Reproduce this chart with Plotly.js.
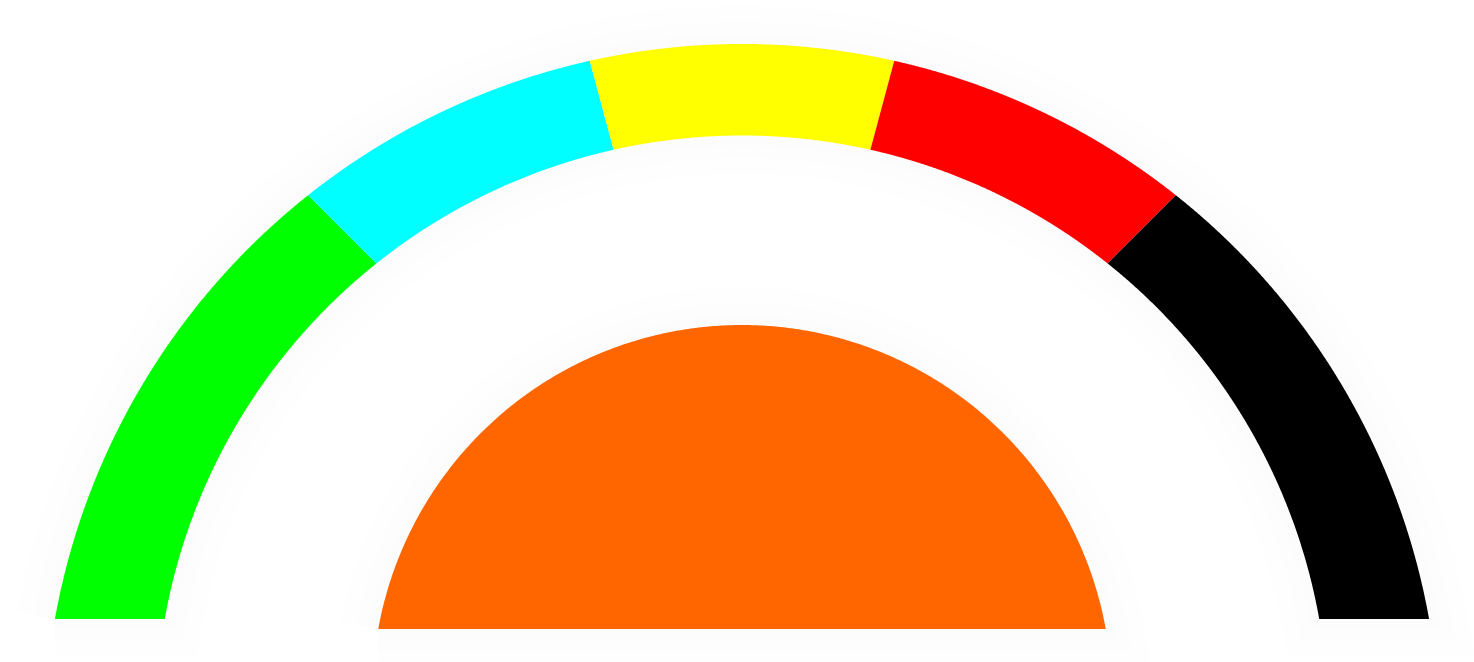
<!DOCTYPE html>
<html>
<head>
<meta charset="utf-8">
<script src="https://cdn.plot.ly/plotly-3.0.1.min.js"></script>
<style>html,body{margin:0;padding:0;background:#fff;}#chart{width:1474px;height:662px;}</style>
</head>
<body>
<div id="chart"></div>
<script>
// ---- data ----
const segments = ['Green', 'Cyan', 'Yellow', 'Red', 'Black'];
const segValues = [3, 2, 2, 2, 3];
const segColors = ['#00ff00', '#00ffff', '#ffff00', '#ff0000', '#000000'];
const coreName = ['Core'];
const coreColor = ['#ff6600'];

// ---- geometry (layout constants) ----
const OUTER = {cy: -113, R: 698};
const INNER = {cy: -92.8, R: 586.3};
const ARC_CUT = 10;
const CORE = {cy: -65.6, R: 369.6};
const CORE_CUT = 0;
const N = 400;

function rayAlpha(c, phi) {
  const s = Math.sin(phi), co = Math.cos(phi);
  const t = c.cy * s + Math.sqrt(c.cy * c.cy * s * s - c.cy * c.cy + c.R * c.R);
  const x = t * co, y = t * s;
  return Math.atan2(y - c.cy, x);
}
function cutAlpha(c, cut, left) {
  const a = Math.asin((cut - c.cy) / c.R);
  return left ? Math.PI - a : a;
}
function alphaFor(c, phiDeg) {
  if (phiDeg >= 180) return cutAlpha(c, ARC_CUT, true);
  if (phiDeg <= 0) return cutAlpha(c, ARC_CUT, false);
  return rayAlpha(c, phiDeg * Math.PI / 180);
}
function arc(c, a1, a2, xs, ys) {
  for (let i = 0; i <= N; i++) {
    const a = a1 + (a2 - a1) * i / N;
    xs.push(c.R * Math.cos(a));
    ys.push(c.cy + c.R * Math.sin(a));
  }
}
function bandPolygon(p1, p2) {
  const xs = [], ys = [];
  arc(OUTER, alphaFor(OUTER, p1), alphaFor(OUTER, p2), xs, ys);
  arc(INNER, alphaFor(INNER, p2), alphaFor(INNER, p1), xs, ys);
  xs.push(xs[0]); ys.push(ys[0]);
  return {xs, ys};
}

const total = segValues.reduce((a, b) => a + b, 0);
const traces = [];

// soft halo
const haloArc = bandPolygon(180, 0);
const coreXs = [], coreYs = [];
arc(CORE, cutAlpha(CORE, CORE_CUT, true), cutAlpha(CORE, CORE_CUT, false), coreXs, coreYs);
coreXs.push(coreXs[0]); coreYs.push(coreYs[0]);
[[haloArc.xs, haloArc.ys], [coreXs, coreYs]].forEach(([xs, ys]) => {
  [76, 44, 20].forEach((w, k) => {
    traces.push({
      x: xs, y: ys, type: 'scatter', mode: 'lines', fill: 'toself',
      fillcolor: ['#fefefe', '#fdfdfd', '#fcfcfc'][k],
      line: {color: ['#fefefe', '#fdfdfd', '#fcfcfc'][k], width: w, simplify: false},
      hoverinfo: 'skip', showlegend: false
    });
  });
});

let cum = 0;
segments.forEach((name, i) => {
  const p1 = 180 - cum / total * 180;
  cum += segValues[i];
  const p2 = 180 - cum / total * 180;
  const poly = bandPolygon(p1, p2);
  traces.push({
    x: poly.xs, y: poly.ys, type: 'scatter', mode: 'lines', fill: 'toself',
    fillcolor: segColors[i], line: {width: 0, color: segColors[i], simplify: false},
    name: name, showlegend: false, hoveron: 'fills'
  });
});

traces.push({
  x: coreXs, y: coreYs, type: 'scatter', mode: 'lines', fill: 'toself',
  fillcolor: coreColor[0], line: {width: 0, color: coreColor[0], simplify: false},
  name: coreName[0], showlegend: false, hoveron: 'fills'
});

const layout = {
  width: 1474, height: 662,
  margin: {l: 0, r: 0, t: 0, b: 0},
  paper_bgcolor: '#ffffff', plot_bgcolor: '#ffffff',
  xaxis: {range: [-742, 732], visible: false, fixedrange: true},
  yaxis: {range: [-33, 629], visible: false, fixedrange: true},
  showlegend: false
};
Plotly.newPlot('chart', traces, layout, {displayModeBar: false, staticPlot: true});
</script>
</body>
</html>
